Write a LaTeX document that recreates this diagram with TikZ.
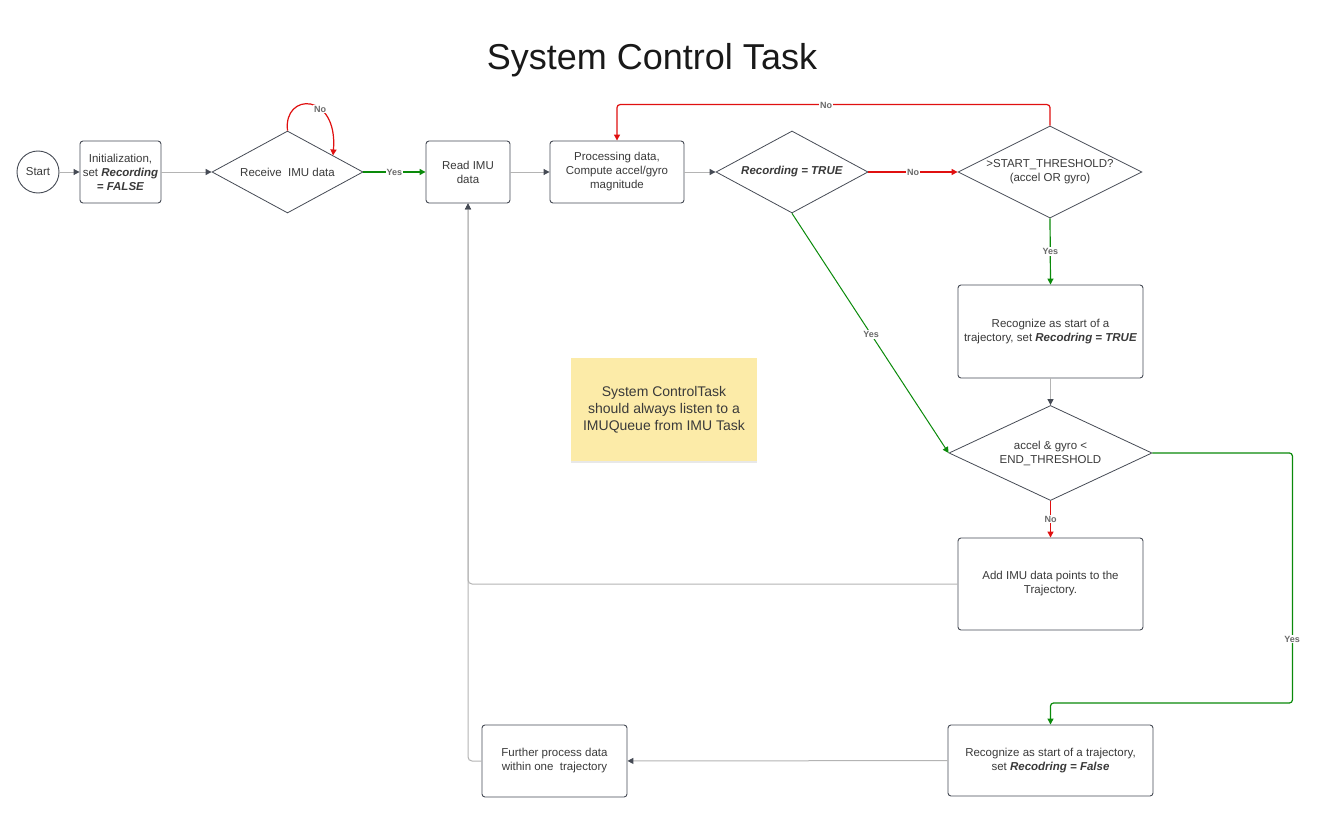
\documentclass[tikz,border=0pt]{standalone}
\usepackage{fontspec}
\setmainfont{Liberation Sans}
\usetikzlibrary{shapes.geometric,arrows.meta,shadows,calc}
\definecolor{bord}{HTML}{464B55}
\definecolor{txt}{HTML}{3A3A3A}
\definecolor{lgray}{HTML}{B4B4B4}
\definecolor{labgray}{HTML}{6A6A6A}
\definecolor{ggreen}{HTML}{0A8A0A}
\definecolor{rred}{HTML}{E01010}
\definecolor{sticky}{HTML}{FCEBA8}
\begin{document}
\begin{tikzpicture}[x=1pt,y=-1pt,
  box/.style={draw=bord, line width=0.9pt, rounded corners=3pt, fill=white, align=center,
    font=\fontsize{11.5}{14}\selectfont, text=txt, inner sep=0pt},
  dia/.style={diamond, draw=bord, line width=0.8pt, inner sep=0pt, align=center,
    font=\fontsize{11.5}{14}\selectfont, text=txt},
  gconn/.style={draw=lgray, line width=1pt, -{Triangle[length=6pt,width=6pt,color=bord]}},
  grn/.style={draw=ggreen, line width=1.2pt, -{Triangle[length=6pt,width=6pt]}},
  rd/.style={draw=rred, line width=1.2pt, -{Triangle[length=6pt,width=6pt]}},
  lab/.style={font=\bfseries\fontsize{9}{10}\selectfont, text=labgray, fill=white, inner sep=1pt}]
\useasboundingbox[fill=white] (0,0) rectangle (1328,840);

\node[font=\fontsize{36}{40}\selectfont, text=black!90] (title) at (652,60) {System Control Task};

\node[circle, draw=bord, line width=0.9pt, minimum size=42pt, inner sep=0pt,
  font=\fontsize{11.5}{14}\selectfont, text=txt] (start) at (38,172) {Start};
\node[box, minimum width=81pt, minimum height=62pt] (init) at (120.5,172)
  {Initialization,\\set \textbf{\textit{Recording}}\\\textbf{\textit{= FALSE}}};
\node[dia, minimum width=151pt, minimum height=82pt, aspect=1.84] (d1) at (287.5,172) {Receive\ \ IMU data};
\node[box, minimum width=84pt, minimum height=62pt] (read) at (468,172) {Read IMU\\data};
\node[box, minimum width=134pt, minimum height=62pt] (proc) at (617,172)
  {Processing data,\\Compute accel/gyro\\magnitude};
\node[dia, minimum width=152pt, minimum height=82pt, aspect=1.85] (d2) at (792,172)
  {\textbf{\textit{Recording = TRUE}}};
\node[dia, minimum width=184pt, minimum height=92pt, aspect=2] (d3) at (1050,172)
  {>START\_THRESHOLD?\\(accel OR gyro)};
\node[box, minimum width=185pt, minimum height=93pt] (rec1) at (1050.5,331.5)
  {Recognize as start of a\\trajectory, set \textbf{\textit{Recodring = TRUE}}};
\node[dia, minimum width=203pt, minimum height=95pt, aspect=2.14] (d4) at (1050.5,453)
  {accel \& gyro <\\END\_THRESHOLD};
\node[box, minimum width=185pt, minimum height=92pt] (add) at (1050.5,584)
  {Add IMU data points to the\\Trajectory.};
\node[box, minimum width=205pt, minimum height=71pt] (rec2) at (1050.5,760.5)
  {Recognize as start of a trajectory,\\set \textbf{\textit{Recodring = False}}};
\node[box, minimum width=145pt, minimum height=72pt] (further) at (554.5,761)
  {Further process data\\within one\ \ trajectory};

\node[fill=sticky, minimum width=186pt, minimum height=103pt, align=center,
  font=\fontsize{14}{17}\selectfont, text=txt,
  drop shadow={opacity=0.18, shadow xshift=0pt, shadow yshift=-2pt}] (note) at (664,409.5)
  {System ControlTask\\should always listen to a\\IMUQueue from IMU Task};

% connectors
\draw[gconn] (start) -- (init);
\draw[gconn] (init) -- (d1);
\draw[rd] (d1.north) .. controls (283,92) and (338,92) .. ($(d1.north)!0.6!(d1.east)$);
\node[lab] (l1) at (320,109) {No};
\draw[grn] (d1) -- node[lab] (l2) {Yes} (read);
\draw[gconn] (read) -- (proc);
\draw[gconn] (proc) -- (d2);
\draw[rd] (d2.east) -- node[lab] (l3) {No} (d3.west);
\draw[rd, rounded corners=3pt] (d3.north) -- ++(0,-21) coordinate (c1) -| (proc.north);
\node[lab] (l4) at (826,105) {No};
\draw[grn] (d3.south) -- node[lab] (l5) {Yes} (rec1.north);
\draw[gconn] (rec1) -- (d4);
\draw[grn, line width=1pt] (d2.south) -- node[lab, pos=0.505] (l6) {Yes} (d4.west);
\draw[rd] (d4.south) -- node[lab] (l7) {No} (add.north);
\draw[gconn, rounded corners=4pt] (add.west) -| (read.south);
\draw[grn, rounded corners=3pt] (d4.east) -- ++(140,0) coordinate (c2) -- ++(0,250) coordinate (c3) -| (rec2.north);
\node[lab] (l8) at (1292,639) {Yes};
\draw[gconn] (rec2) -- (further);
\draw[gconn, rounded corners=4pt] (further.west) -| (read.south);
\end{tikzpicture}
\end{document}
